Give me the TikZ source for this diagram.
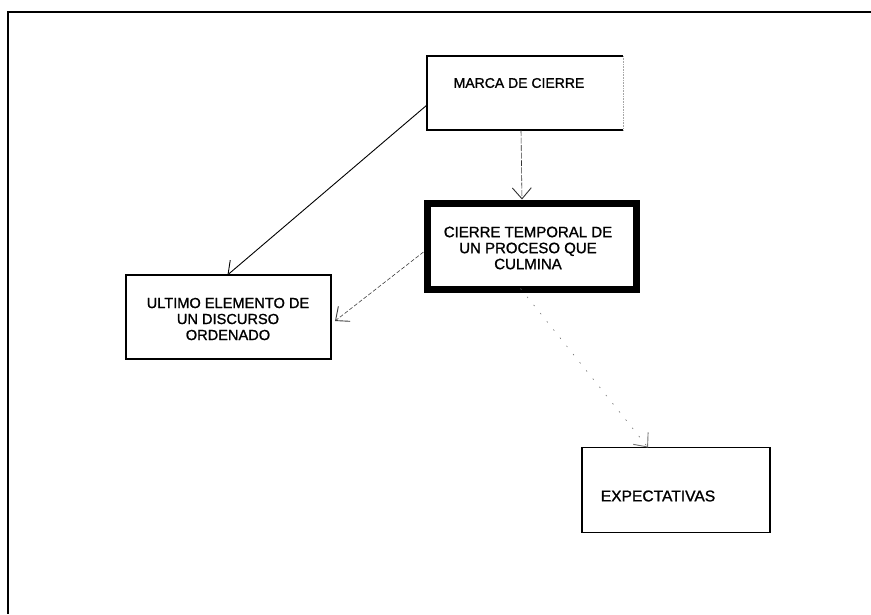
\documentclass[tikz,border=0pt]{standalone}
\usepackage{fontspec}
\setmainfont{Liberation Sans}[BoldFont=Liberation Sans,BoldFeatures={FakeBold=1.2}]
\usetikzlibrary{arrows.meta}
\begin{document}
\begin{tikzpicture}[x=1pt,y=-1pt,
  lbl/.style={font=\bfseries\fontsize{#1}{16}\selectfont,align=center,inner sep=0pt},
  arr/.style={line width=0.9pt,-{Straight Barb[length=11pt,width=19pt,line width=0.9pt]}}
]
\useasboundingbox (0,0) rectangle (871,614);
% outer frame (open on right and bottom)
\coordinate (ftl) at (8,12);
\coordinate (ftr) at (871,12);
\coordinate (fbl) at (8,614);
\draw[line width=1.5pt] (ftr) -- (ftl) -- (fbl);
% boxes
\node[minimum width=196pt,minimum height=74pt,inner sep=0pt,outer sep=0pt] (marca) at (525,93) {};
\draw[line width=1.3pt] (marca.north east) -- (marca.north west) -- (marca.south west) -- (marca.south east);
\draw[line width=0.6pt,densely dotted,black!35] (marca.north east) -- (marca.south east);
\node[lbl=14] (marcat) at (519,83) {MARCA DE CIERRE};

\node[draw,line width=7pt,minimum width=209pt,minimum height=86pt,inner sep=0pt] (cierre) at (531.5,246) {};
\node[lbl=15] (cierret) at (528,248) {CIERRE TEMPORAL DE\\UN PROCESO QUE\\CULMINA};

\node[draw,line width=1.4pt,minimum width=205pt,minimum height=84pt,inner sep=0pt,outer sep=0pt] (ultimo) at (228.5,317) {};
\node[lbl=14.6] (ultimot) at (228,319) {ULTIMO ELEMENTO DE\\UN DISCURSO\\ORDENADO};

\node[draw,line width=1.4pt,minimum width=188pt,minimum height=85pt,inner sep=0pt,outer sep=0pt] (expect) at (676,490) {};
\node[lbl=15.6] (expectt) at (658,496) {EXPECTATIVAS};

% connectors
\draw[arr] ([yshift=-12pt]marca.west) -- ([xshift=-1pt]ultimo.north);
\draw[arr,line width=0.6pt,dash pattern=on 6pt off 1.5pt,black!80] ([xshift=-4pt]marca.south) -- ([xshift=-9.5pt]cierre.north);
\draw[arr,line width=0.6pt,dash pattern=on 4pt off 2pt,black!75] ([yshift=-6pt]cierre.west) -- ([xshift=4pt,yshift=-4pt]ultimo.east);
\draw[arr,line width=0.6pt,dash pattern=on 1.5pt off 9pt,black!55] ([xshift=-11pt,yshift=4pt]cierre.south) -- ([xshift=-28pt]expect.north);
\end{tikzpicture}
\end{document}
